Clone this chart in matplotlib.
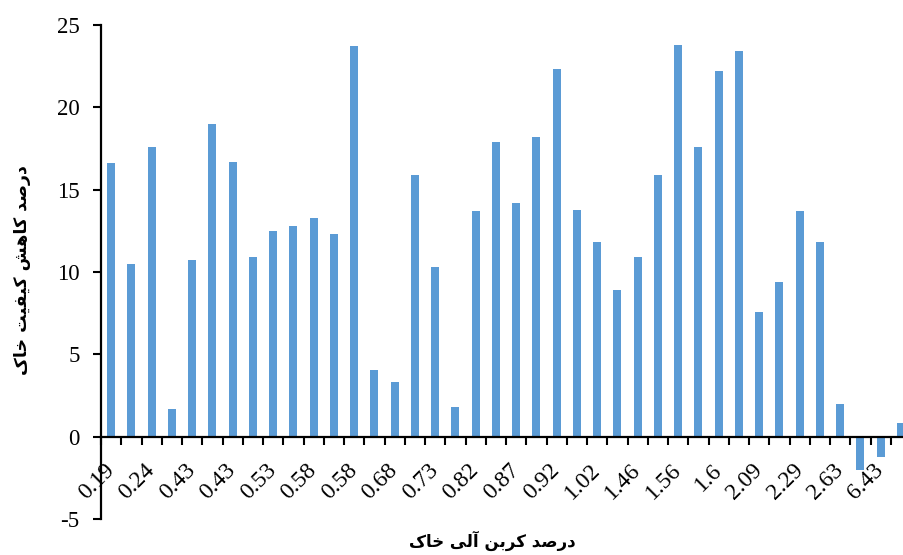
import matplotlib
matplotlib.use('Agg')
import matplotlib.pyplot as plt
import numpy as np

# مقادیر درصد کاهش کیفیت خاک برای هر نمونه (40 نمونه)
kahesh = [16.6, 10.5, 17.6, 1.7, 10.7, 19.0, 16.7, 10.9, 12.5, 12.8,
          13.3, 12.3, 23.7, 4.05, 3.3, 15.9, 10.3, 1.8, 13.7, 17.9,
          14.2, 18.2, 22.3, 13.75, 11.8, 8.9, 10.9, 15.9, 23.8, 17.6,
          22.2, 23.45, 7.6, 9.4, 13.7, 11.85, 2.0, -2.05, -1.25, 0.8]

# برچسب های محور x (فقط هر دو نمونه یک برچسب دیده می شود)
karbon_labels = ['0.19', '0.24', '0.43', '0.43', '0.53', '0.58', '0.58', '0.68',
                 '0.73', '0.82', '0.87', '0.92', '1.02', '1.46', '1.56', '1.6',
                 '2.09', '2.29', '2.63', '6.43']

y_ticks = [-5, 0, 5, 10, 15, 20, 25]

ylabel_fa = 'درصد کاهش کیفیت خاک'
xlabel_fa = 'درصد کربن آلی خاک'

# matplotlib حروف فارسی را به هم وصل نمی کند، پس شکل ها دستی انتخاب می شوند
FORMS = {
    'ا': ('\uFE8D', '\uFE8E', None, None),
    'آ': ('\uFE81', '\uFE82', None, None),
    'ب': ('\uFE8F', '\uFE90', '\uFE91', '\uFE92'),
    'ت': ('\uFE95', '\uFE96', '\uFE97', '\uFE98'),
    'خ': ('\uFEA5', '\uFEA6', '\uFEA7', '\uFEA8'),
    'د': ('\uFEA9', '\uFEAA', None, None),
    'ر': ('\uFEAD', '\uFEAE', None, None),
    'ش': ('\uFEB5', '\uFEB6', '\uFEB7', '\uFEB8'),
    'ص': ('\uFEB9', '\uFEBA', '\uFEBB', '\uFEBC'),
    'ف': ('\uFED1', '\uFED2', '\uFED3', '\uFED4'),
    'ک': ('\uFB8E', '\uFB8F', '\uFB90', '\uFB91'),
    'ل': ('\uFEDD', '\uFEDE', '\uFEDF', '\uFEE0'),
    'ن': ('\uFEE5', '\uFEE6', '\uFEE7', '\uFEE8'),
    'ه': ('\uFEE9', '\uFEEA', '\uFEEB', '\uFEEC'),
    'ی': ('\uFBFC', '\uFBFD', '\uFBFE', '\uFBFF'),
}


def farsi(text):
    out = []
    for i, ch in enumerate(text):
        if ch not in FORMS:
            out.append(ch)
            continue
        prev = text[i - 1] if i > 0 else ''
        nxt = text[i + 1] if i + 1 < len(text) else ''
        join_prev = prev in FORMS and FORMS[prev][2] is not None
        join_next = FORMS[ch][2] is not None and nxt in FORMS
        iso, fin, ini, med = FORMS[ch]
        if join_prev and join_next:
            out.append(med)
        elif join_prev:
            out.append(fin)
        elif join_next:
            out.append(ini)
        else:
            out.append(iso)
    return ''.join(out)[::-1]


plt.rcParams['font.family'] = ['Liberation Serif', 'DejaVu Serif']
plt.rcParams['axes.unicode_minus'] = False

fig = plt.figure(figsize=(9.04, 5.55), dpi=100)
ax = fig.add_axes([101 / 904, 1 - 519 / 555, 810 / 904, 494 / 555])

x = np.arange(1, len(kahesh) + 1)
ax.bar(x, kahesh, width=0.4, color='#5B9BD5', zorder=2)

ax.set_xlim(0.5, len(kahesh) + 0.5)
ax.set_ylim(-5, 25)
ax.set_yticks(y_ticks)
ax.tick_params(axis='y', labelsize=16.5, length=6, width=1.5, direction='out', pad=9.5)

ax.spines['top'].set_visible(False)
ax.spines['right'].set_visible(False)
ax.spines['left'].set_linewidth(1.6)
ax.spines['bottom'].set_linewidth(1.6)
ax.spines['bottom'].set_position(('data', 0))

# خط تیک ها بین ستون ها، برچسب ها روی ستون های فرد
ax.set_xticks(np.arange(0.5, len(kahesh) + 1, 1.0))
ax.set_xticklabels([])
ax.tick_params(axis='x', which='major', length=6, width=1.5, direction='out')
ax.set_xticks(x[::2], minor=True)
ax.set_xticklabels(karbon_labels, minor=True, rotation=45, ha='right',
                   va='center', rotation_mode='anchor', fontsize=17)
ax.tick_params(axis='x', which='minor', length=0, pad=22)

fig.text(22 / 904, 1 - 270 / 555, farsi(ylabel_fa), rotation=90, ha='center', va='center',
         family='DejaVu Sans', fontweight='bold', fontsize=12.5)
fig.text(492 / 904, 1 - 541 / 555, farsi(xlabel_fa), ha='center', va='center',
         family='DejaVu Sans', fontweight='bold', fontsize=12)

fig.savefig('out.png', dpi=100)
